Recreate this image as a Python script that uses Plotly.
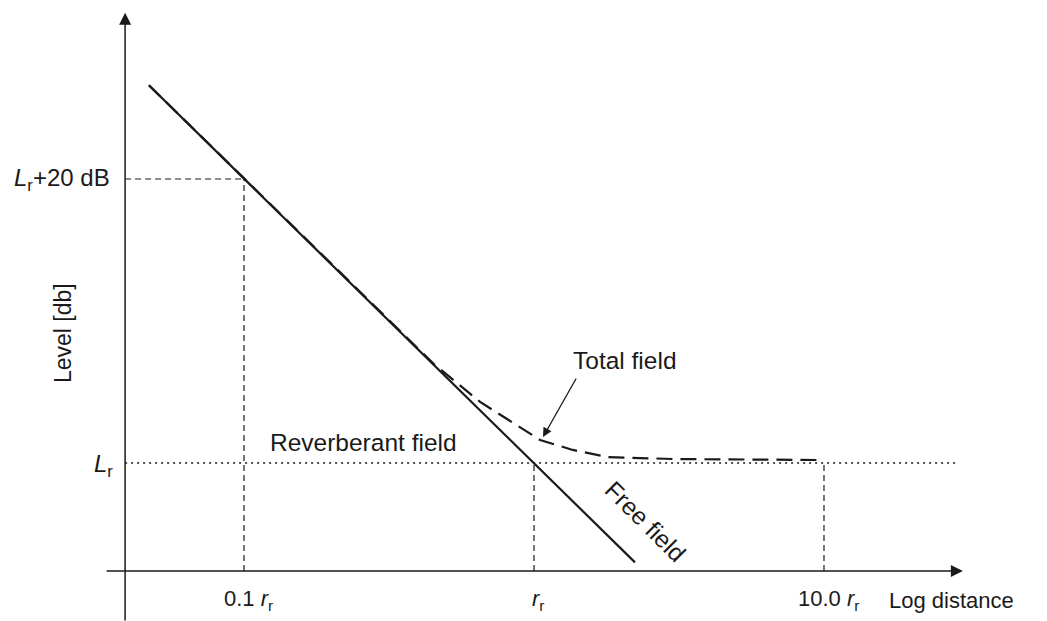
import numpy as np
import plotly.graph_objects as go

# ---- data (distance as ratio r / r_r, level in dB relative to L_r) ----
free_r = [0.047, 2.23]
free_level = [26.6, -7.0]

total_r = [0.047, 0.25, 0.45, 0.652, 0.847, 1.05, 1.36, 1.79, 3.01, 9.7]
total_level = [26.6, 12.05, 7.0, 4.30, 2.82, 1.62, 0.92, 0.42, 0.28, 0.21]

ref_r = [0.1, 1.0, 10.0]            # marked distances
ref_r_labels = ["0.1 <i>r</i><sub>r</sub>", "<i>r</i><sub>r</sub>", "10.0 <i>r</i><sub>r</sub>"]
lr_plus = 20.0                      # L_r + 20 dB
lr = 0.0                            # L_r

# ---- frame geometry (axis values) ----
AX_R = 10 ** -1.41                  # position of the level axis
AX_R_START = 10 ** -1.479
AX_R_END = 10 ** 1.479
AX_LEVEL = -7.6                     # position of the distance axis
Y_TOP = 31.7
Y_BOT = -11.2
REV_END = 10 ** 1.459

FONT = "Liberation Sans, Arial, sans-serif"
INK = "#1a1a1a"

fig = go.Figure()

def line(xs, ys, width, dash, color=INK):
    fig.add_trace(go.Scatter(x=xs, y=ys, mode="lines",
                             line=dict(color=color, width=width, dash=dash),
                             hoverinfo="skip", showlegend=False))

# reverberant level (dotted)
line([AX_R, REV_END], [lr, lr], 1.3, "2px,4px")
# guide lines (dashed)
line([AX_R, ref_r[0]], [lr_plus, lr_plus], 1.2, "6px,4px")
line([ref_r[0], ref_r[0]], [AX_LEVEL, lr_plus], 1.2, "6px,4px")
line([ref_r[1], ref_r[1]], [AX_LEVEL, lr], 1.2, "6px,4px")
line([ref_r[2], ref_r[2]], [AX_LEVEL, lr], 1.2, "6px,4px")
# free field
line(free_r, free_level, 2.2, "solid")
# total field
line(total_r, total_level, 2.2, "16px,8px")

lg = np.log10

annotations = []
# axes with arrows
annotations.append(dict(x=lg(AX_R), y=Y_TOP, ax=lg(AX_R), ay=Y_BOT,
                        xref="x", yref="y", axref="x", ayref="y",
                        showarrow=True, arrowhead=2, arrowsize=1.6,
                        arrowwidth=1.5, arrowcolor=INK, text=""))
annotations.append(dict(x=lg(AX_R_END), y=AX_LEVEL, ax=lg(AX_R_START), ay=AX_LEVEL,
                        xref="x", yref="y", axref="x", ayref="y",
                        showarrow=True, arrowhead=2, arrowsize=1.6,
                        arrowwidth=1.5, arrowcolor=INK, text=""))
# "Total field" pointer
annotations.append(dict(x=lg(1.074), y=1.83, ax=lg(1.407), ay=6.06,
                        xref="x", yref="y", axref="x", ayref="y",
                        showarrow=True, arrowhead=2, arrowsize=1.4,
                        arrowwidth=1.3, arrowcolor=INK, text=""))

def text(x, y, s, xanchor="center", angle=0, size=22):
    annotations.append(dict(x=x, y=y, xref="x", yref="y", text=s,
                            showarrow=False, xanchor=xanchor, yanchor="middle",
                            textangle=angle,
                            font=dict(family=FONT, size=size, color=INK)))

text(-1.455, lr_plus, "<i>L</i><sub>r</sub>+20 dB", xanchor="right", size=24)
text(-1.445, lr - 0.2, "<i>L</i><sub>r</sub>", xanchor="right", size=24)
text(-1.624, 9.15, "Level [db]", angle=-90, size=23)
for rv, lab in zip(ref_r, ref_r_labels):
    text(lg(rv) + 0.015, -9.65, lab, size=22)
text(1.217, -9.65, "Log distance", xanchor="left", size=22)
text(0.314, 7.25, "Total field", size=24.5)
text(-0.917, 1.45, "Reverberant field", xanchor="left", size=24.5)
text(0.383, -4.15, "Free field", angle=45, size=24.5)

fig.update_layout(
    width=1047, height=621,
    margin=dict(l=0, r=0, t=0, b=0),
    paper_bgcolor="white", plot_bgcolor="white",
    xaxis=dict(type="log", range=[-1.8414, 1.7690], visible=False, fixedrange=True),
    yaxis=dict(range=[-11.127, 32.606], visible=False, fixedrange=True),
    annotations=annotations,
    showlegend=False,
)

fig.write_html("out.html")
